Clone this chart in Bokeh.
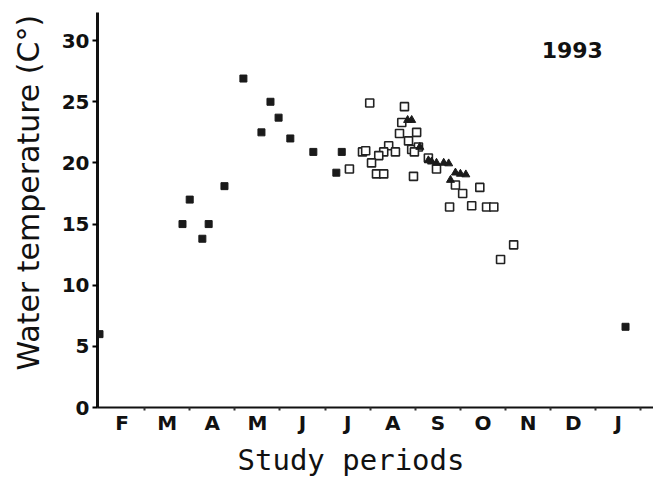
from bokeh.plotting import figure
from bokeh.models import FixedTicker, Range1d, Label, Title
from bokeh.embed import file_html
from bokeh.resources import INLINE

# x: months since 1 February 1993 (0 = Feb 1), y: water temperature (C)
month_labels = ["F", "M", "A", "M", "J", "J", "A", "S", "O", "N", "D", "J"]
y_ticks = [0, 5, 10, 15, 20, 25, 30]

filled_sq_x = [0.0, 1.84, 2.0, 2.28, 2.42, 2.77, 3.19, 3.59, 3.79, 3.97, 4.23, 4.74, 5.25, 5.37, 11.66]
filled_sq_y = [6.0, 15.0, 17.0, 13.8, 15.0, 18.1, 26.9, 22.5, 25.0, 23.7, 22.0, 20.9, 19.2, 20.9, 6.6]

open_sq_x = [5.99, 6.76, 6.70, 6.65, 7.03, 6.85, 6.41, 6.30, 6.56, 6.92, 7.07, 6.98, 5.83, 5.90,
             6.19, 6.03, 5.54, 6.14, 6.30, 7.29, 7.47, 6.96, 7.89, 8.43, 8.05, 7.76, 8.25, 8.58,
             8.74, 9.18, 8.89]
open_sq_y = [24.9, 24.6, 23.3, 22.4, 22.5, 21.8, 21.4, 20.9, 20.9, 21.1, 21.3, 20.9, 20.9, 21.0,
             20.6, 20.0, 19.5, 19.1, 19.1, 20.4, 19.5, 18.9, 18.2, 18.0, 17.5, 16.4, 16.5, 16.4,
             16.4, 13.3, 12.1]

tri_x = [6.83, 6.92, 7.29, 7.36, 7.47, 7.63, 7.74, 7.89, 8.00, 8.12, 7.78, 7.10]
tri_y = [23.5, 23.5, 20.2, 20.1, 20.0, 20.0, 19.95, 19.2, 19.1, 19.05, 18.6, 21.3]

p = figure(width=653, height=480, output_backend="svg", toolbar_location=None,
           x_range=Range1d(-0.044, 12.28), y_range=Range1d(0, 32.3),
           min_border_left=97, min_border_right=0, min_border_top=12, min_border_bottom=73)
p.outline_line_color = None
p.grid.visible = False
p.background_fill_color = "white"
p.border_fill_color = "white"

# markers
p.scatter(open_sq_x, open_sq_y, marker="square", size=8, fill_color="white",
          line_color="#222222", line_width=1.6)
p.scatter(tri_x, tri_y, marker="triangle", size=8, fill_color="#1a1a1a", line_color="#1a1a1a")
p.scatter(filled_sq_x, filled_sq_y, marker="square", size=7, fill_color="#1a1a1a",
          line_color="#1a1a1a")

# x axis
xa = p.xaxis[0]
xa.ticker = FixedTicker(ticks=[i + 0.5 for i in range(12)], minor_ticks=list(range(1, 13)))
xa.major_label_overrides = {i + 0.5: m for i, m in enumerate(month_labels)}
xa.major_tick_out = 0
xa.major_tick_in = 0
xa.minor_tick_out = 3
xa.minor_tick_in = 0
xa.minor_tick_line_width = 2
xa.minor_tick_line_color = "#333333"
xa.axis_line_width = 2
xa.axis_line_color = "#111111"
xa.major_label_text_font = "DejaVu Sans"
xa.major_label_text_font_style = "bold"
xa.major_label_text_font_size = "20px"
xa.major_label_text_color = "#111111"
xa.major_label_standoff = 0

# y axis
ya = p.yaxis[0]
ya.ticker = FixedTicker(ticks=y_ticks, minor_ticks=[])
ya.major_tick_out = 5
ya.major_tick_in = 0
ya.major_tick_line_width = 2
ya.minor_tick_out = 0
ya.minor_tick_in = 0
ya.axis_line_width = 3
ya.axis_line_color = "#111111"
ya.major_label_text_font = "DejaVu Sans"
ya.major_label_text_font_style = "bold"
ya.major_label_text_font_size = "20px"
ya.major_label_text_color = "#111111"
ya.major_label_standoff = 3

# axis titles (as side titles so they sit outside the plot frame)
ytitle = Title(text="Water temperature (C°)", align="left", offset=37, vertical_align="top",
               standoff=21, text_font="DejaVu Sans", text_font_style="normal",
               text_font_size="30px", text_color="#111111")
p.add_layout(ytitle, "left")
xtitle = Title(text="Study periods", align="left", offset=140, vertical_align="bottom",
               standoff=6, text_font="DejaVu Sans Mono", text_font_style="normal",
               text_font_size="29px", text_color="#111111")
p.add_layout(xtitle, "below")

p.add_layout(Label(x=10.48, y=29.2, text="1993",
                   text_font="DejaVu Sans", text_font_style="bold", text_font_size="22px",
                   text_color="#111111", text_align="center", text_baseline="alphabetic"))

open("out.html", "w").write(file_html(p, INLINE))
